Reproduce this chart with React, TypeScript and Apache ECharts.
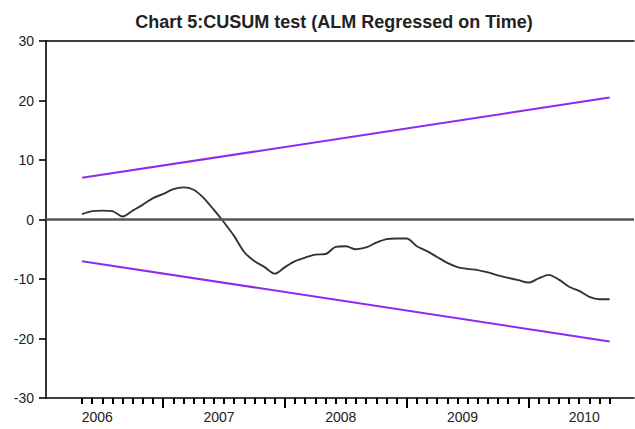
import React, { useEffect, useRef } from "react";
import * as echarts from "echarts";

// Monthly sample: 2006M05 .. 2010M09
const startYear = 2006;
const startMonth = 5;
const cusum: number[] = [
  0.9, 1.4, 1.5, 1.4, 0.5, 1.5, 2.5, 3.6, 4.3, 5.1,
  5.4, 5.0, 3.6, 1.6, -0.5, -2.8, -5.5, -7.0, -8.0, -9.1,
  -8.0, -7.0, -6.4, -5.9, -5.8, -4.6, -4.5, -5.0, -4.7, -3.9,
  -3.3, -3.2, -3.2, -4.5, -5.3, -6.3, -7.3, -8.0, -8.3, -8.5,
  -8.9, -9.4, -9.8, -10.2, -10.6, -9.9, -9.3, -10.1, -11.3, -12.0,
  -13.0, -13.4, -13.4,
];
const upperBound: number[] = [7.0, 20.5];
const lowerBound: number[] = [-7.0, -20.5];
const yTicks: number[] = [-30, -20, -10, 0, 10, 20, 30];

const months: string[] = cusum.map((_, i) => {
  const m = startMonth - 1 + i;
  const y = startYear + Math.floor(m / 12);
  return `${y}M${String((m % 12) + 1).padStart(2, "0")}`;
});
const years: number[] = Array.from(new Set(months.map((m) => Number(m.slice(0, 4)))));
const janIndex = (y: number) => (y - startYear) * 12 - (startMonth - 1);
const yearCenters = years.map((y) => janIndex(y) + 5.5);
const yearStarts = years.map((y) => janIndex(y)).filter((i) => i > 0 && i < months.length);

const FONT = "'Liberation Sans Narrow', 'Liberation Sans', Arial, sans-serif";

const X_MIN = -3.55;
const X_MAX = 54.4;
const GRID_LEFT = 46;
const GRID_RIGHT = 1;
const W = 635;

export default function App() {
  const ref = useRef<HTMLDivElement>(null);
  useEffect(() => {
    if (!ref.current) return;
    const chart = echarts.init(ref.current, null, { renderer: "svg" });
    const last = months.length - 1;
    const pxPerUnit = (W - GRID_LEFT - GRID_RIGHT) / (X_MAX - X_MIN);
    const tickLeft = GRID_LEFT + (0 - X_MIN) * pxPerUnit;
    const tickRight = W - (GRID_LEFT + (last - X_MIN) * pxPerUnit);
    chart.setOption({
      animation: false,
      backgroundColor: "#ffffff",
      title: {
        text: "Chart 5:CUSUM test (ALM Regressed on Time)",
        left: 329,
        textAlign: "center",
        top: 8,
        textStyle: { fontFamily: FONT, fontSize: 18, fontWeight: "bold", color: "#222" },
      },
      grid: [
        { left: GRID_LEFT, right: GRID_RIGHT, top: 41, bottom: 31 },
        { left: tickLeft, right: tickRight, top: 41, bottom: 31 },
      ],
      xAxis: [
        {
          type: "value",
          gridIndex: 0,
          position: "bottom",
          min: X_MIN,
          max: X_MAX,
          splitLine: { show: false },
          axisLine: { onZero: false, lineStyle: { color: "#000", width: 1.6 } },
          axisTick: { show: false },
          axisLabel: {
            customValues: yearCenters,
            formatter: (v: number) => String(years[yearCenters.indexOf(v)] ?? ""),
            fontFamily: FONT,
            fontSize: 14,
            color: "#222",
            margin: 12,
          },
        },
        {
          type: "value",
          gridIndex: 0,
          position: "bottom",
          min: X_MIN,
          max: X_MAX,
          splitLine: { show: false },
          axisLine: { show: false, onZero: false },
          axisTick: { show: true, customValues: yearStarts, length: 10, lineStyle: { color: "#000", width: 2 } },
          axisLabel: { show: false },
        },
        {
          type: "value",
          gridIndex: 0,
          position: "top",
          min: X_MIN,
          max: X_MAX,
          splitLine: { show: false },
          axisLine: { show: true, onZero: false, lineStyle: { color: "#000", width: 1.6 } },
          axisTick: { show: false },
          axisLabel: { show: false },
        },
        {
          type: "category",
          gridIndex: 1,
          position: "bottom",
          data: months,
          boundaryGap: false,
          splitLine: { show: false },
          axisLine: { show: false, onZero: false },
          axisTick: { show: true, interval: 0, length: 6, lineStyle: { color: "#000", width: 2 } },
          axisLabel: { show: false },
        },
      ],
      yAxis: [
        {
          type: "value",
          gridIndex: 0,
          min: yTicks[0],
          max: yTicks[yTicks.length - 1],
          interval: 10,
          splitLine: { show: false },
          axisLine: { show: true, onZero: false, lineStyle: { color: "#000", width: 1.6 } },
          axisTick: { show: true, length: 7, lineStyle: { color: "#000", width: 1.6 } },
          axisLabel: { fontFamily: FONT, fontSize: 14, color: "#222", margin: 12 },
        },
        {
          type: "value",
          gridIndex: 1,
          min: yTicks[0],
          max: yTicks[yTicks.length - 1],
          show: false,
        },
      ],
      series: [
        {
          type: "line",
          xAxisIndex: 0,
          yAxisIndex: 0,
          data: cusum.map((v, i) => [i, v]),
          showSymbol: false,
          smooth: 0.3,
          lineStyle: { color: "#333", width: 1.9 },
          z: 3,
          markLine: {
            silent: true,
            symbol: "none",
            label: { show: false },
            lineStyle: { color: "#555", width: 2.5, type: "solid" },
            data: [{ yAxis: 0 }],
          },
        },
        {
          type: "line",
          xAxisIndex: 0,
          yAxisIndex: 0,
          data: [[0, upperBound[0]], [last, upperBound[1]]],
          showSymbol: false,
          lineStyle: { color: "#8b2bf0", width: 2 },
        },
        {
          type: "line",
          xAxisIndex: 0,
          yAxisIndex: 0,
          data: [[0, lowerBound[0]], [last, lowerBound[1]]],
          showSymbol: false,
          lineStyle: { color: "#8b2bf0", width: 2 },
        },
      ],
    });
    return () => chart.dispose();
  }, []);
  return <div ref={ref} style={{ position: "fixed", left: 0, top: 0, width: 635, height: 429 }} />;
}
